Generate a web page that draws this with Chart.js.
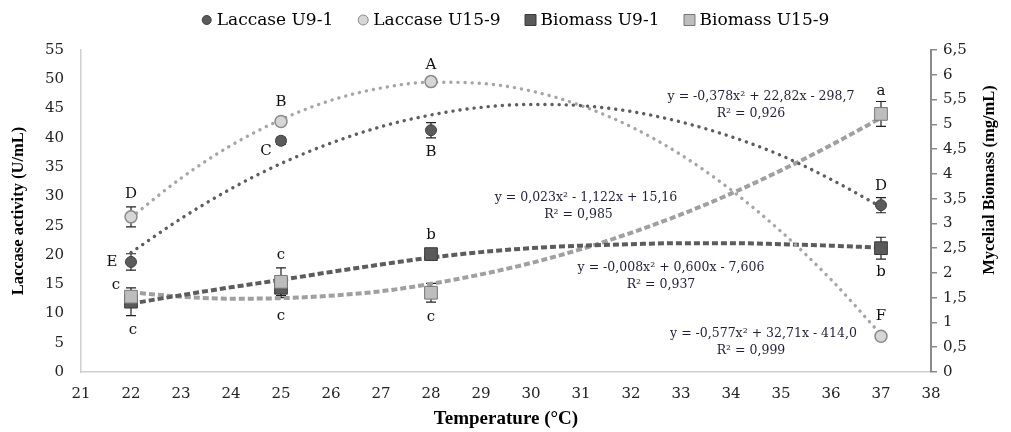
<!DOCTYPE html>
<html><head><meta charset="utf-8">
<script src="https://cdn.jsdelivr.net/npm/chart.js@4.4.1/dist/chart.umd.min.js"></script>
<style>html,body{margin:0;padding:0;background:#fff;overflow:hidden}#wrap{width:1011px;height:432px}</style>
</head><body><div id="wrap"><canvas id="c" width="1011" height="432"></canvas></div>
<script>
// ---------- data ----------
const temperatures = [22, 25, 28, 37];
const laccaseU91 = [18.8, 39.5, 41.3, 28.5];
const laccaseU91Err = [1.4, 0.6, 1.3, 1.3];
const laccaseU159 = [26.5, 42.8, 49.6, 6.1];
const laccaseU159Err = [1.7, 0.5, 0.3, 0.3];
const biomassU91 = [1.42, 1.70, 2.38, 2.50];
const biomassU91Err = [0.28, 0.20, 0.05, 0.22];
const biomassU159 = [1.52, 1.82, 1.60, 5.21];
const biomassU159Err = [0.10, 0.28, 0.19, 0.25];

const trendTemps = [22, 23, 24, 25, 26, 27, 28, 29, 30, 31, 32, 33, 34, 35, 36, 37];
const trendLaccaseU91 = [20.4, 26.2, 31.3, 35.6, 39.1, 41.9, 43.9, 45.2, 45.7, 45.5, 44.5, 42.7, 40.2, 37.0, 32.9, 28.2];
const trendLaccaseU159 = [26.4, 33.1, 38.7, 43.1, 46.4, 48.5, 49.5, 49.3, 48.0, 45.5, 41.9, 37.1, 31.1, 24.0, 15.8, 6.4];
const trendBiomassU91 = [1.38, 1.55, 1.71, 1.86, 2.02, 2.17, 2.31, 2.42, 2.50, 2.55, 2.58, 2.60, 2.60, 2.58, 2.55, 2.51];
const trendBiomassU159 = [1.61, 1.52, 1.48, 1.49, 1.54, 1.63, 1.78, 1.97, 2.20, 2.48, 2.81, 3.18, 3.60, 4.07, 4.58, 5.13];

const legendLabels = ['Laccase U9-1', 'Laccase U15-9', 'Biomass U9-1', 'Biomass U15-9'];
const xTitle = 'Temperature (°C)';
const yTitle = 'Laccase activity (U/mL)';
const y2Title = 'Mycelial Biomass (mg/mL)';

// significance letters: [text, series index, point index]
const letterText = ['D', 'E', 'c', 'c', 'B', 'C', 'c', 'c', 'A', 'B', 'b', 'c', 'a', 'D', 'b', 'F'];
const letterSeries = [1, 0, 3, 2, 1, 0, 3, 2, 1, 0, 2, 3, 3, 0, 2, 1];
const letterPoint = [0, 0, 0, 0, 1, 1, 1, 1, 2, 2, 2, 2, 3, 3, 3, 3];
// regression labels
const equationText = ['y = -0,378x² + 22,82x - 298,7', 'R² = 0,926',
  'y = 0,023x² - 1,122x + 15,16', 'R² = 0,985',
  'y = -0,008x² + 0,600x - 7,606', 'R² = 0,937',
  'y = -0,577x² + 32,71x - 414,0', 'R² = 0,999'];
const equationAnchorX = [34.6, 34.4, 31.1, 30.95, 32.8, 32.6, 34.65, 34.4];
const equationAnchorY = [47.0, 44.1, 29.7, 26.8, 17.8, 14.9, 6.5, 3.6];

// ---------- styles ----------
const letterOffsets = [[0, -23], [-19, 0], [-15, -12], [2, 28], [0, -19], [-15, 10], [0, -27], [0, 28],
  [0, -17], [0, 22], [0, -19], [0, 24], [0, -23], [0, -19], [0, 24], [0, -20]];
const seriesValues = [laccaseU91, laccaseU159, biomassU91, biomassU159];
const seriesAxis = ['y', 'y', 'y2', 'y2'];
const seriesErr = [laccaseU91Err, laccaseU159Err, biomassU91Err, biomassU159Err];
const markerFill = ['#5b5b5b', '#d6d6d6', '#5a5a5a', '#bdbdbd'];
const markerStroke = ['#3f3f3f', '#8a8a8a', '#3a3a3a', '#777777'];

const pts = (xs, ys) => xs.map((x, i) => ({x: x, y: ys[i]}));

const errorBars = {
  id: 'errorBars',
  beforeDatasetsDraw(chart) {
    const ctx = chart.ctx, xs = chart.scales.x;
    ctx.save();
    ctx.strokeStyle = '#222'; ctx.lineWidth = 1.2;
    seriesValues.forEach((vals, s) => {
      const ys = chart.scales[seriesAxis[s]];
      vals.forEach((v, i) => {
        const px = xs.getPixelForValue(temperatures[i]);
        const t = ys.getPixelForValue(v + seriesErr[s][i]);
        const b = ys.getPixelForValue(v - seriesErr[s][i]);
        ctx.beginPath();
        ctx.moveTo(px, t); ctx.lineTo(px, b);
        ctx.moveTo(px - 5, t); ctx.lineTo(px + 5, t);
        ctx.moveTo(px - 5, b); ctx.lineTo(px + 5, b);
        ctx.stroke();
      });
    });
    ctx.restore();
  }
};

const labelsPlugin = {
  id: 'labelsPlugin',
  afterDatasetsDraw(chart) {
    const ctx = chart.ctx, xs = chart.scales.x;
    ctx.save();
    ctx.fillStyle = '#111';
    ctx.font = '15px "DejaVu Serif"';
    ctx.textAlign = 'center'; ctx.textBaseline = 'middle';
    letterText.forEach((t, k) => {
      const s = letterSeries[k], i = letterPoint[k];
      const px = xs.getPixelForValue(temperatures[i]) + letterOffsets[k][0];
      const py = chart.scales[seriesAxis[s]].getPixelForValue(seriesValues[s][i]) + letterOffsets[k][1];
      ctx.fillText(t, px, py);
    });
    ctx.fillStyle = '#1f1f3a';
    ctx.font = '12.5px "DejaVu Serif"';
    equationText.forEach((t, k) => {
      ctx.fillText(t, xs.getPixelForValue(equationAnchorX[k]), chart.scales.y.getPixelForValue(equationAnchorY[k]));
    });
    ctx.restore();
  },
  afterDraw(chart) {
    const ctx = chart.ctx;
    ctx.save();
    // right axis title (reads bottom to top)
    ctx.fillStyle = '#000';
    ctx.font = 'bold 16.5px "Liberation Serif"';
    ctx.textAlign = 'center'; ctx.textBaseline = 'middle';
    ctx.translate(990, 180); ctx.rotate(-Math.PI / 2);
    ctx.fillText(y2Title, 0, 0);
    ctx.restore();
    // legend
    ctx.save();
    ctx.font = '17px "DejaVu Serif"';
    ctx.textBaseline = 'middle'; ctx.textAlign = 'left';
    const markW = 12, gap = 4, spacing = 24;
    const widths = legendLabels.map(l => ctx.measureText(l).width);
    const total = widths.reduce((a, b) => a + b, 0) + legendLabels.length * (markW + gap) + spacing * (legendLabels.length - 1);
    let x = 515 - total / 2;
    const y = 20;
    legendLabels.forEach((l, k) => {
      const cx = x + markW / 2;
      ctx.fillStyle = markerFill[k]; ctx.strokeStyle = markerStroke[k]; ctx.lineWidth = 1;
      ctx.beginPath();
      if (k < 2) { ctx.arc(cx, y, k === 0 ? 4.5 : 5, 0, Math.PI * 2); }
      else { ctx.rect(cx - 5.5, y - 5.5, 11, 11); }
      ctx.fill(); ctx.stroke();
      ctx.fillStyle = '#000';
      ctx.fillText(l, x + markW + gap, y + 1);
      x += markW + gap + widths[k] + spacing;
    });
    ctx.restore();
  }
};

const tickFont = {family: '"DejaVu Serif"', size: 15};

new Chart(document.getElementById('c'), {
  type: 'scatter',
  data: {
    datasets: [
      {label: legendLabels[0], data: pts(temperatures, laccaseU91), yAxisID: 'y', pointStyle: 'circle', pointRadius: 5.5,
        backgroundColor: markerFill[0], borderColor: markerStroke[0], borderWidth: 1, order: 0},
      {label: legendLabels[1], data: pts(temperatures, laccaseU159), yAxisID: 'y', pointStyle: 'circle', pointRadius: 6,
        backgroundColor: markerFill[1], borderColor: markerStroke[1], borderWidth: 1.5, order: 0},
      {label: legendLabels[2], data: pts(temperatures, biomassU91), yAxisID: 'y2', pointStyle: 'rect', pointRadius: 9,
        backgroundColor: markerFill[2], borderColor: markerStroke[2], borderWidth: 1, order: 1},
      {label: legendLabels[3], data: pts(temperatures, biomassU159), yAxisID: 'y2', pointStyle: 'rect', pointRadius: 9,
        backgroundColor: markerFill[3], borderColor: markerStroke[3], borderWidth: 1, order: 0},
      {type: 'line', data: pts(trendTemps, trendLaccaseU91), yAxisID: 'y', borderColor: '#5e5e5e', borderWidth: 3.4,
        borderDash: [0.1, 7], borderCapStyle: 'round', pointRadius: 0, fill: false, cubicInterpolationMode: 'monotone', order: 2},
      {type: 'line', data: pts(trendTemps, trendLaccaseU159), yAxisID: 'y', borderColor: '#a6a6a6', borderWidth: 3.4,
        borderDash: [0.1, 7], borderCapStyle: 'round', pointRadius: 0, fill: false, cubicInterpolationMode: 'monotone', order: 2},
      {type: 'line', data: pts(trendTemps, trendBiomassU91), yAxisID: 'y2', borderColor: '#5c5c5c', borderWidth: 4,
        borderDash: [6, 3], borderCapStyle: 'butt', pointRadius: 0, fill: false, cubicInterpolationMode: 'monotone', order: 2},
      {type: 'line', data: pts(trendTemps, trendBiomassU159), yAxisID: 'y2', borderColor: '#a0a0a0', borderWidth: 4,
        borderDash: [6, 3], borderCapStyle: 'butt', pointRadius: 0, fill: false, cubicInterpolationMode: 'monotone', order: 2}
    ]
  },
  options: {
    responsive: false, animation: false, devicePixelRatio: 1,
    layout: {padding: {top: 50, left: 0, right: 0, bottom: 0}},
    plugins: {legend: {display: false}, tooltip: {enabled: false}},
    scales: {
      x: {type: 'linear', min: 21, max: 38,
        ticks: {stepSize: 1, font: tickFont, color: '#222', padding: 13},
        grid: {drawOnChartArea: false, drawTicks: false},
        border: {display: true, color: '#cfcfcf', width: 1.5},
        title: {display: true, text: xTitle, font: {family: '"Liberation Serif"', size: 19, weight: 'bold'}, color: '#000', padding: {top: 0, bottom: 2}},
        afterFit(s) { s.height = 60; }
      },
      y: {type: 'linear', position: 'left', min: 0, max: 55,
        ticks: {stepSize: 5, font: tickFont, color: '#222', padding: 17},
        grid: {drawOnChartArea: false, drawTicks: false},
        border: {display: true, color: '#cfcfcf', width: 1.5},
        title: {display: true, text: yTitle, font: {family: '"Liberation Serif"', size: 16.5, weight: 'bold'}, color: '#000', padding: {top: 9, bottom: 0}},
        afterFit(s) { s.width = 81; }
      },
      y2: {type: 'linear', position: 'right', min: 0, max: 6.5,
        ticks: {stepSize: 0.5, font: tickFont, color: '#222', padding: 6,
          callback: v => String(Math.round(v * 10) / 10).replace('.', ',')},
        grid: {drawOnChartArea: false, drawTicks: true, tickLength: 6, color: '#8a8a8a', lineWidth: 1.5},
        border: {display: true, color: '#8a8a8a', width: 2},
        afterFit(s) { s.width = 80; }
      }
    }
  },
  plugins: [errorBars, labelsPlugin]
});
</script>
</body></html>
